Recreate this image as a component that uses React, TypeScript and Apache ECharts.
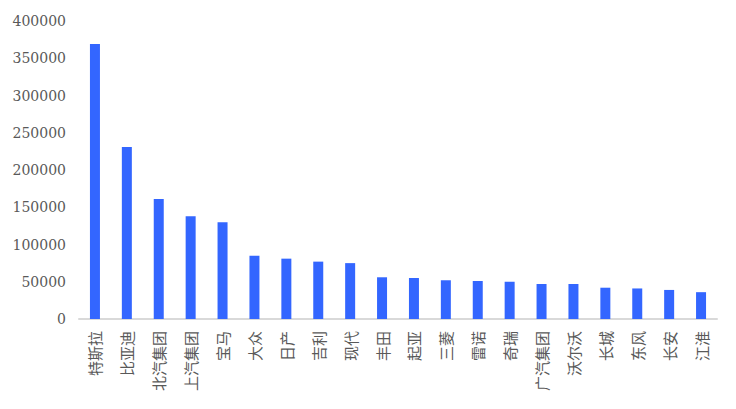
import * as React from 'react';
import * as echarts from 'echarts';

// 2021年各品牌新能源车销量
const brands = [
  '特斯拉', '比亚迪', '北汽集团', '上汽集团', '宝马', '大众', '日产', '吉利', '现代', '丰田',
  '起亚', '三菱', '雷诺', '奇瑞', '广汽集团', '沃尔沃', '长城', '东风', '长安', '江淮',
];
const sales = [
  369000, 231000, 161000, 138000, 130000, 85000, 81000, 77000, 75000, 56000,
  55000, 52000, 51000, 50000, 47000, 47000, 42000, 41000, 39000, 36000,
];

export default function App() {
  const chartRef = React.useRef<HTMLDivElement>(null);

  React.useEffect(() => {
    if (!chartRef.current) return;
    const chart = echarts.init(chartRef.current, undefined, { renderer: 'svg' });

    chart.setOption({
      animation: false,
      grid: { left: 79, right: 19, top: 21, bottom: 90 },
      xAxis: {
        type: 'category',
        data: brands,
        axisLine: { lineStyle: { color: '#d9d9d9', width: 2 } },
        axisTick: { show: false },
        axisLabel: {
          interval: 0,
          rotate: 90,
          margin: 12,
          color: '#595959',
          fontSize: 15,
          fontFamily: '"Noto Sans CJK SC", sans-serif',
        },
      },
      yAxis: {
        type: 'value',
        min: 0,
        max: 400000,
        interval: 50000,
        axisLine: { show: false },
        axisTick: { show: false },
        splitLine: { show: false },
        axisLabel: {
          margin: 13,
          color: '#595959',
          fontSize: 14,
          fontFamily: '"DejaVu Serif", serif',
          formatter: (v: number) => String(v),
        },
      },
      series: [
        {
          type: 'bar',
          data: sales,
          barWidth: 10,
          itemStyle: { color: '#3366ff' },
        },
      ],
    });

    return () => {
      chart.dispose();
    };
  }, []);

  return (
    <div
      ref={chartRef}
      style={{ position: 'absolute', left: 0, top: 0, width: 736, height: 409 }}
    />
  );
}
